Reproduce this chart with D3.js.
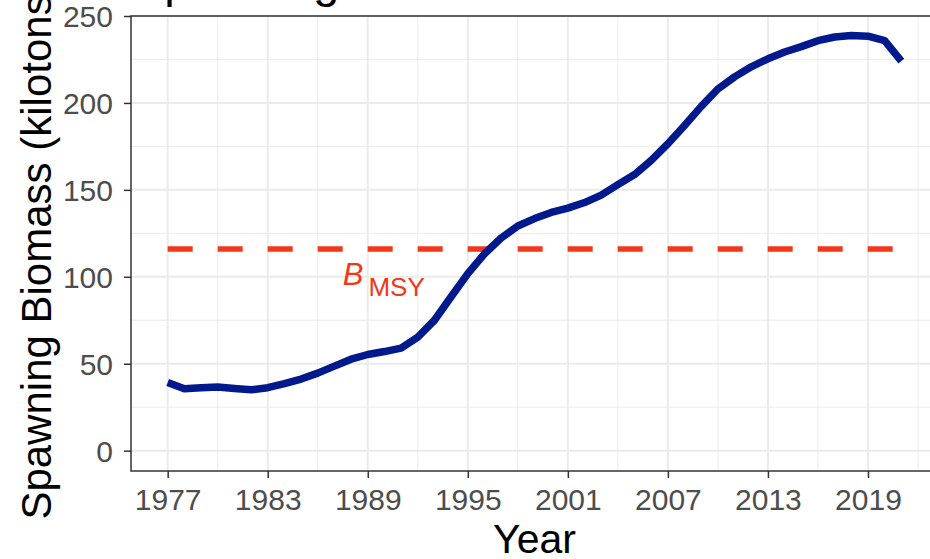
<!DOCTYPE html>
<html><head><meta charset="utf-8">
<script src="https://cdn.jsdelivr.net/npm/d3@7"></script>
<style>
html,body{margin:0;padding:0;background:#fff;}
svg{display:block;font-family:"Liberation Sans",Arial,Helvetica,sans-serif;}
</style></head>
<body>
<svg id="chart" width="930" height="559"></svg>
<script>
const years = d3.range(1977, 2022);
const biomass = [39.2, 35.6, 36.2, 36.6, 35.8, 35.0, 36.2, 38.5, 41.2, 44.6, 48.6, 52.6, 55.3, 57.0, 59.0,
  65.3, 75.0, 88.5, 101.8, 113.2, 122.3, 129.2, 133.5, 137.0, 139.5, 142.7, 147.0, 153.0,
  158.8, 167.0, 176.5, 187.0, 198.0, 208.0, 215.0, 220.8, 225.4, 229.3, 232.4, 235.8,
  237.9, 238.8, 238.4, 235.8, 224.0];
const bmsy = 116;
const xTicks = [1977, 1983, 1989, 1995, 2001, 2007, 2013, 2019];
const xMinor = [1980, 1986, 1992, 1998, 2004, 2010, 2016, 2022];
const yTicks = [0, 50, 100, 150, 200, 250];
const yMinor = [25, 75, 125, 175, 225];
const titleText = "Spawning Biomass";
const xTitle = "Year";
const yTitle = "Spawning Biomass (kilotons)";

const svg = d3.select("#chart");
const L = 131, R = 938, T = 16, B = 471;
const x = d3.scaleLinear().domain([1974.8, 2023.2]).range([L, R]);
const y = d3.scaleLinear().domain([-11.7, 250]).range([B, T]);

// title, clipped by the top edge (only descenders visible in the reference)
svg.append("text").attr("x", 133).attr("y", -3).attr("font-size", 47).attr("fill", "#000").text(titleText);

const grid = svg.append("g");
grid.selectAll(".ymin").data(yMinor).join("line")
  .attr("x1", L).attr("x2", R).attr("y1", d => y(d)).attr("y2", d => y(d))
  .attr("stroke", "#EBEBEB").attr("stroke-width", 1);
grid.selectAll(".xmin").data(xMinor).join("line")
  .attr("y1", T).attr("y2", B).attr("x1", d => x(d)).attr("x2", d => x(d))
  .attr("stroke", "#EBEBEB").attr("stroke-width", 1);
grid.selectAll(".ymaj").data(yTicks).join("line")
  .attr("x1", L).attr("x2", R).attr("y1", d => y(d)).attr("y2", d => y(d))
  .attr("stroke", "#EBEBEB").attr("stroke-width", 2);
grid.selectAll(".xmaj").data(xTicks).join("line")
  .attr("y1", T).attr("y2", B).attr("x1", d => x(d)).attr("x2", d => x(d))
  .attr("stroke", "#EBEBEB").attr("stroke-width", 2);

// BMSY dashed line
svg.append("line")
  .attr("x1", x(1977)).attr("x2", x(2021)).attr("y1", y(bmsy)).attr("y2", y(bmsy))
  .attr("stroke", "#F2371A").attr("stroke-width", 5.5).attr("stroke-dasharray", "25,25");

// biomass line
const line = d3.line().x((d, i) => x(years[i])).y(d => y(d));
svg.append("path").datum(biomass).attr("d", line)
  .attr("fill", "none").attr("stroke", "#00198C").attr("stroke-width", 7.5)
  .attr("stroke-linejoin", "round").attr("stroke-linecap", "butt");

// BMSY label
const lab = svg.append("text").attr("x", x(1987.5)).attr("y", y(95)).attr("fill", "#F2371A");
lab.append("tspan").attr("font-size", 31).attr("font-style", "italic").text("B");
lab.append("tspan").attr("font-size", 26).attr("dx", 5).attr("dy", 11).text("MSY");

// panel border
svg.append("rect").attr("x", L).attr("y", T).attr("width", R - L).attr("height", B - T)
  .attr("fill", "none").attr("stroke", "#333333").attr("stroke-width", 1.5);

// axes
const xAxis = svg.append("g").attr("transform", `translate(0,${B})`)
  .call(d3.axisBottom(x).tickValues(xTicks).tickFormat(d3.format("d")).tickSize(7).tickPadding(4));
const yAxis = svg.append("g").attr("transform", `translate(${L},0)`)
  .call(d3.axisLeft(y).tickValues(yTicks).tickSize(7).tickPadding(11));
[xAxis, yAxis].forEach(a => {
  a.select(".domain").remove();
  a.selectAll(".tick line").attr("stroke", "#333333").attr("stroke-width", 1.5);
  a.selectAll(".tick text").attr("fill", "#4D4D4D").attr("font-size", 30)
    .attr("font-family", "'Liberation Sans',Arial,sans-serif");
});
xAxis.selectAll(".tick text").attr("dy", "0.92em");
yAxis.selectAll(".tick text").attr("dy", "0.36em");

svg.append("text").attr("x", (L + R) / 2).attr("y", 553).attr("text-anchor", "middle")
  .attr("font-size", 41).attr("fill", "#000").text(xTitle);
svg.append("text").attr("transform", `translate(51,250) rotate(-90)`).attr("text-anchor", "middle")
  .attr("font-size", 42).attr("fill", "#000").text(yTitle);
</script>
</body></html>
